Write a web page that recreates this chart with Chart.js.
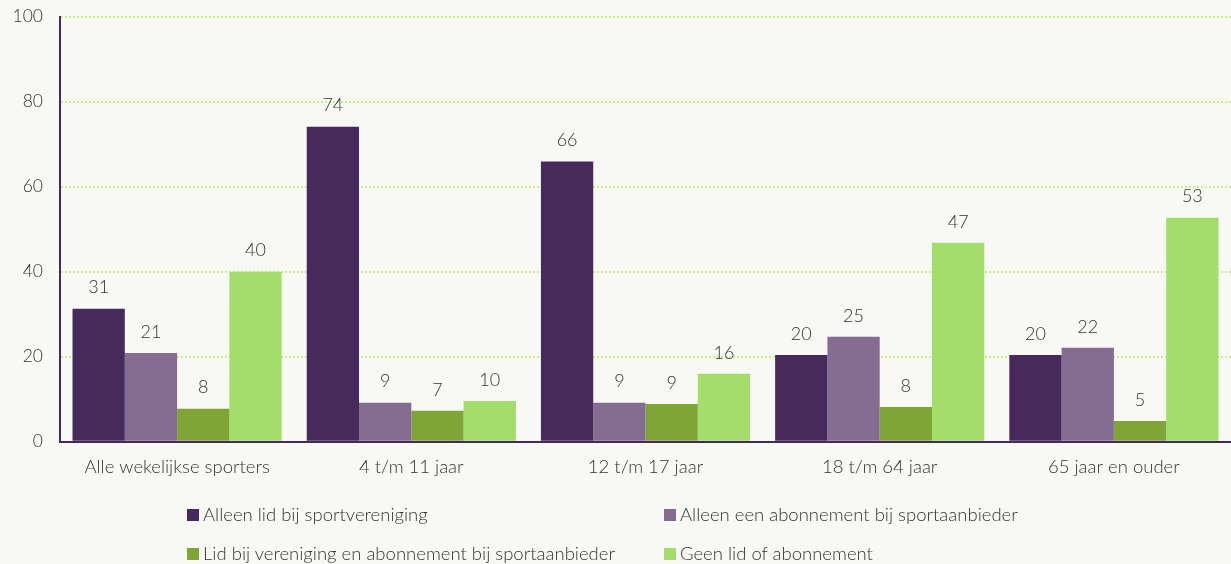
<!DOCTYPE html>
<html><head><meta charset="utf-8">
<script src="https://cdn.jsdelivr.net/npm/chart.js@4"></script>
<style>
html,body{margin:0;padding:0;background:#f8f8f4;overflow:hidden;}
#wrap{position:relative;width:1231px;height:564px;overflow:hidden;}
#c{position:absolute;left:0;top:-11px;}
.leg{position:absolute;font-family:Lato,sans-serif;font-weight:300;font-size:18.5px;color:#333;white-space:nowrap;line-height:20px;}
.leg span.box{display:inline-block;width:12px;height:12px;margin-right:4px;vertical-align:0px;}
</style></head>
<body><div id="wrap"><canvas id="c" width="1231" height="575"></canvas></div>
<script>
const categories = ["Alle wekelijkse sporters","4 t/m 11 jaar","12 t/m 17 jaar","18 t/m 64 jaar","65 jaar en ouder"];
const seriesNames = ["Alleen lid bij sportvereniging","Alleen een abonnement bij sportaanbieder","Lid bij vereniging en abonnement bij sportaanbieder","Geen lid of abonnement"];
const alleenLid = [31.3, 74.1, 65.9, 20.4, 20.4];
const alleenAbonnement = [20.9, 9.2, 9.2, 24.7, 22.1];
const lidEnAbonnement = [7.8, 7.3, 8.9, 8.2, 4.9];
const geenLid = [40.0, 9.6, 16.0, 46.8, 52.7];
const yTicks = [0,20,40,60,80,100];
const colors = ["#462a5c","#856d91","#7fa536","#a3de6a"];
const seriesValues = [alleenLid, alleenAbonnement, lidEnAbonnement, geenLid];

const labelPlugin = {
  id:'valLabels',
  afterDatasetsDraw(chart){
    const ctx = chart.ctx;
    ctx.save();
    ctx.font = '300 18px Lato';
    ctx.fillStyle = '#333';
    ctx.textAlign = 'center';
    ctx.textBaseline = 'bottom';
    chart.data.datasets.forEach((ds,i)=>{
      chart.getDatasetMeta(i).data.forEach((bar,j)=>{
        ctx.fillText(String(Math.round(ds.data[j])), bar.x, bar.y - 12);
      });
    });
    ctx.restore();
  }
};

new Chart(document.getElementById('c'), {
  type:'bar',
  data:{
    labels: categories,
    datasets: seriesNames.map((n,i)=>({label:n,data:seriesValues[i],backgroundColor:colors[i],borderWidth:0,categoryPercentage:0.893,barPercentage:1}))
  },
  options:{
    responsive:false,animation:false,
    layout:{padding:{left:0,right:0,top:0,bottom:72}},
    plugins:{legend:{display:false},tooltip:{enabled:false}},
    scales:{
      x:{
        grid:{display:false,drawTicks:false},
        border:{display:true,color:'#462a5c',width:2},
        ticks:{color:'#333',font:{family:'Lato',weight:'300',size:18.5},padding:14}
      },
      y:{
        min:0,max:100,
        afterBuildTicks(s){ s.ticks = yTicks.map(v=>({value:v})); },
        afterFit(s){ s.width = 60; },
        grid:{color:'#c8f08e',lineWidth:2,drawTicks:false},
        border:{display:true,color:'#462a5c',width:2,dash:[2,2]},
        ticks:{color:'#333',font:{family:'Lato',weight:'300',size:17.5},padding:17}
      }
    }
  },
  plugins:[labelPlugin]
});

const legPos = [[187,504],[664,504],[187,543],[664,543]];
seriesNames.forEach((n,i)=>{
  const d=document.createElement('div');
  d.className='leg';
  d.style.left=legPos[i][0]+'px';d.style.top=legPos[i][1]+'px';
  d.innerHTML='<span class="box" style="background:'+colors[i]+'"></span>'+n;
  document.getElementById('wrap').appendChild(d);
});
</script></body></html>
